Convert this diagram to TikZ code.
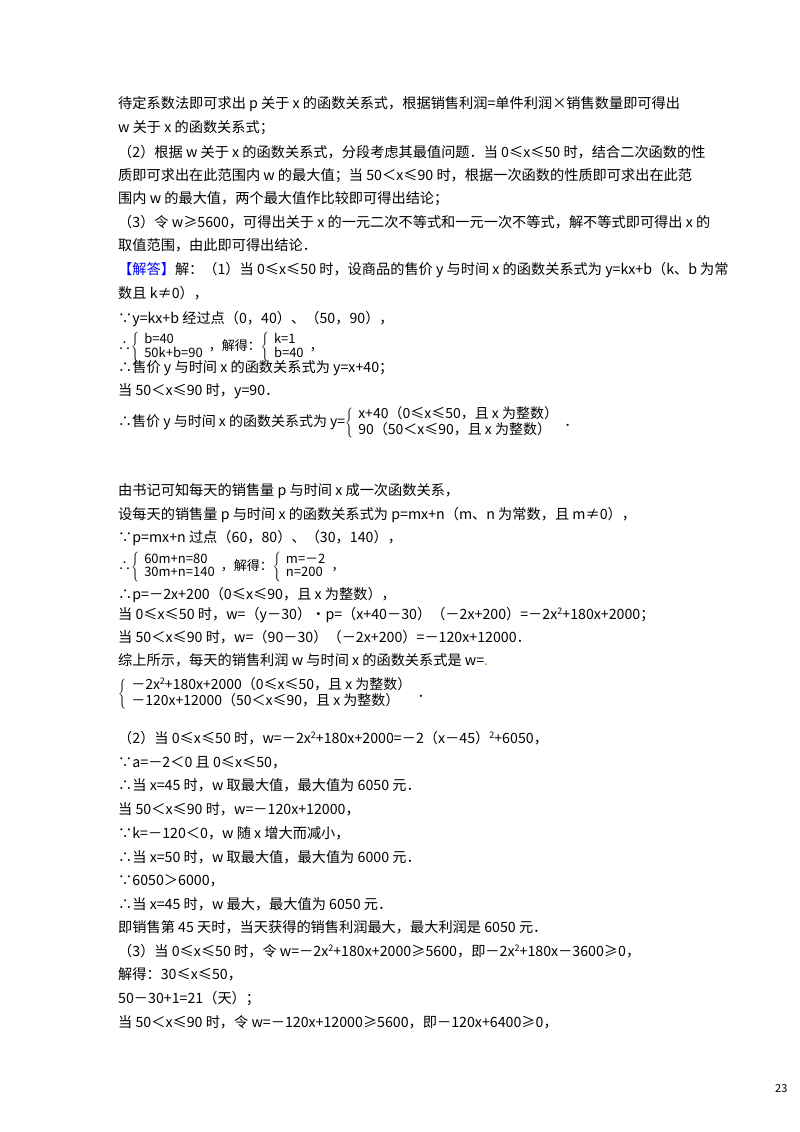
\documentclass[tikz,border=0pt]{standalone}
\usepackage{fontspec}
\setmainfont{Noto Sans CJK SC}
\newcommand{\sq}{\raisebox{5pt}{\fontsize{9}{9}\selectfont 2}}
\renewcommand{\arraystretch}{0.95}
\begin{document}
\begin{tikzpicture}[x=1pt,y=-1pt,
  ln/.style={anchor=base west,inner sep=0pt,font=\fontsize{14.2}{15}\selectfont},
  sys/.style={anchor=west,inner sep=0pt,font=\fontsize{14}{15}\selectfont},
  sysb/.style={anchor=west,inner sep=0pt,font=\fontsize{13}{14}\selectfont}]
\useasboundingbox (0,0) rectangle (800,1132);
\node[ln] (l1) at (118,108) {待定系数法即可求出 p 关于 x 的函数关系式，根据销售利润=单件利润×销售数量即可得出};
\node[ln] (l2) at (118,132) {w 关于 x 的函数关系式；};
\node[ln] (l3) at (118,157) {（2）根据 w 关于 x 的函数关系式，分段考虑其最值问题．当 0≤x≤50 时，结合二次函数的性};
\node[ln] (l4) at (118,180) {质即可求出在此范围内 w 的最大值；当 50＜x≤90 时，根据一次函数的性质即可求出在此范};
\node[ln] (l5) at (118,203) {围内 w 的最大值，两个最大值作比较即可得出结论；};
\node[ln] (l6) at (118,227) {（3）令 w≥5600，可得出关于 x 的一元二次不等式和一元一次不等式，解不等式即可得出 x 的};
\node[ln] (l7) at (118,250) {取值范围，由此即可得出结论．};
\node[ln] (l8) at (118,274) {\textcolor{blue}{【解答】}解：（1）当 0≤x≤50 时，设商品的售价 y 与时间 x 的函数关系式为 y=kx+b（k、b 为常};
\node[ln] (l9) at (118,298) {数且 k≠0），};
\node[ln] (l10) at (118,323) {∵y=kx+b 经过点（0，40）、（50，90），};
\node[sysb] (s1) at (118,347) {∴$\left\{\begin{array}{l}\mbox{b=40}\\\mbox{50k+b=90}\end{array}\right.$，解得：$\left\{\begin{array}{l}\mbox{k=1}\\\mbox{b=40}\end{array}\right.$，};
\node[ln] (l11) at (118,372) {∴售价 y 与时间 x 的函数关系式为 y=x+40；};
\node[ln] (l12) at (118,395) {当 50＜x≤90 时，y=90．};
\node[sys] (s2) at (118,423) {∴售价 y 与时间 x 的函数关系式为 y=$\left\{\begin{array}{l}\mbox{x+40（0≤x≤50，且 x 为整数）}\\\mbox{90（50＜x≤90，且 x 为整数）}\end{array}\right.$．};
\node[ln] (l13) at (118,495) {由书记可知每天的销售量 p 与时间 x 成一次函数关系，};
\node[ln] (l14) at (118,519) {设每天的销售量 p 与时间 x 的函数关系式为 p=mx+n（m、n 为常数，且 m≠0），};
\node[ln] (l15) at (118,542) {∵p=mx+n 过点（60，80）、（30，140），};
\node[sysb] (s3) at (118,567) {∴$\left\{\begin{array}{l}\mbox{60m+n=80}\\\mbox{30m+n=140}\end{array}\right.$，解得：$\left\{\begin{array}{l}\mbox{m=－2}\\\mbox{n=200}\end{array}\right.$，};
\node[ln] (l16) at (118,599) {∴p=－2x+200（0≤x≤90，且 x 为整数），};
\node[ln] (l17) at (118,619) {当 0≤x≤50 时，w=（y－30）•p=（x+40－30）（－2x+200）=－2x\sq+180x+2000；};
\node[ln] (l18) at (118,642) {当 50＜x≤90 时，w=（90－30）（－2x+200）=－120x+12000．};
\node[ln] (l19) at (118,665) {综上所示，每天的销售利润 w 与时间 x 的函数关系式是 w=\textcolor{orange}{.}};
\node[sys] (s4) at (118,694) {$\left\{\begin{array}{l}\mbox{－2x\sq+180x+2000（0≤x≤50，且 x 为整数）}\\\mbox{－120x+12000（50＜x≤90，且 x 为整数）}\end{array}\right.$．};
\node[ln] (l20) at (118,743) {（2）当 0≤x≤50 时，w=－2x\sq+180x+2000=－2（x－45）\sq+6050，};
\node[ln] (l21) at (118,767) {∵a=－2＜0 且 0≤x≤50，};
\node[ln] (l22) at (118,790) {∴当 x=45 时，w 取最大值，最大值为 6050 元．};
\node[ln] (l23) at (118,814) {当 50＜x≤90 时，w=－120x+12000，};
\node[ln] (l24) at (118,838) {∵k=－120＜0，w 随 x 增大而减小，};
\node[ln] (l25) at (118,862) {∴当 x=50 时，w 取最大值，最大值为 6000 元．};
\node[ln] (l26) at (118,885) {∵6050＞6000，};
\node[ln] (l27) at (118,909) {∴当 x=45 时，w 最大，最大值为 6050 元．};
\node[ln] (l28) at (118,932) {即销售第 45 天时，当天获得的销售利润最大，最大利润是 6050 元．};
\node[ln] (l29) at (118,956) {（3）当 0≤x≤50 时，令 w=－2x\sq+180x+2000≥5600，即－2x\sq+180x－3600≥0，};
\node[ln] (l30) at (118,979) {解得：30≤x≤50，};
\node[ln] (l31) at (118,1003) {50－30+1=21（天）；};
\node[ln] (l32) at (118,1027) {当 50＜x≤90 时，令 w=－120x+12000≥5600，即－120x+6400≥0，};
\node[ln,font=\fontsize{11}{12}\selectfont] (pg) at (775,1092) {23};
\end{tikzpicture}
\end{document}
